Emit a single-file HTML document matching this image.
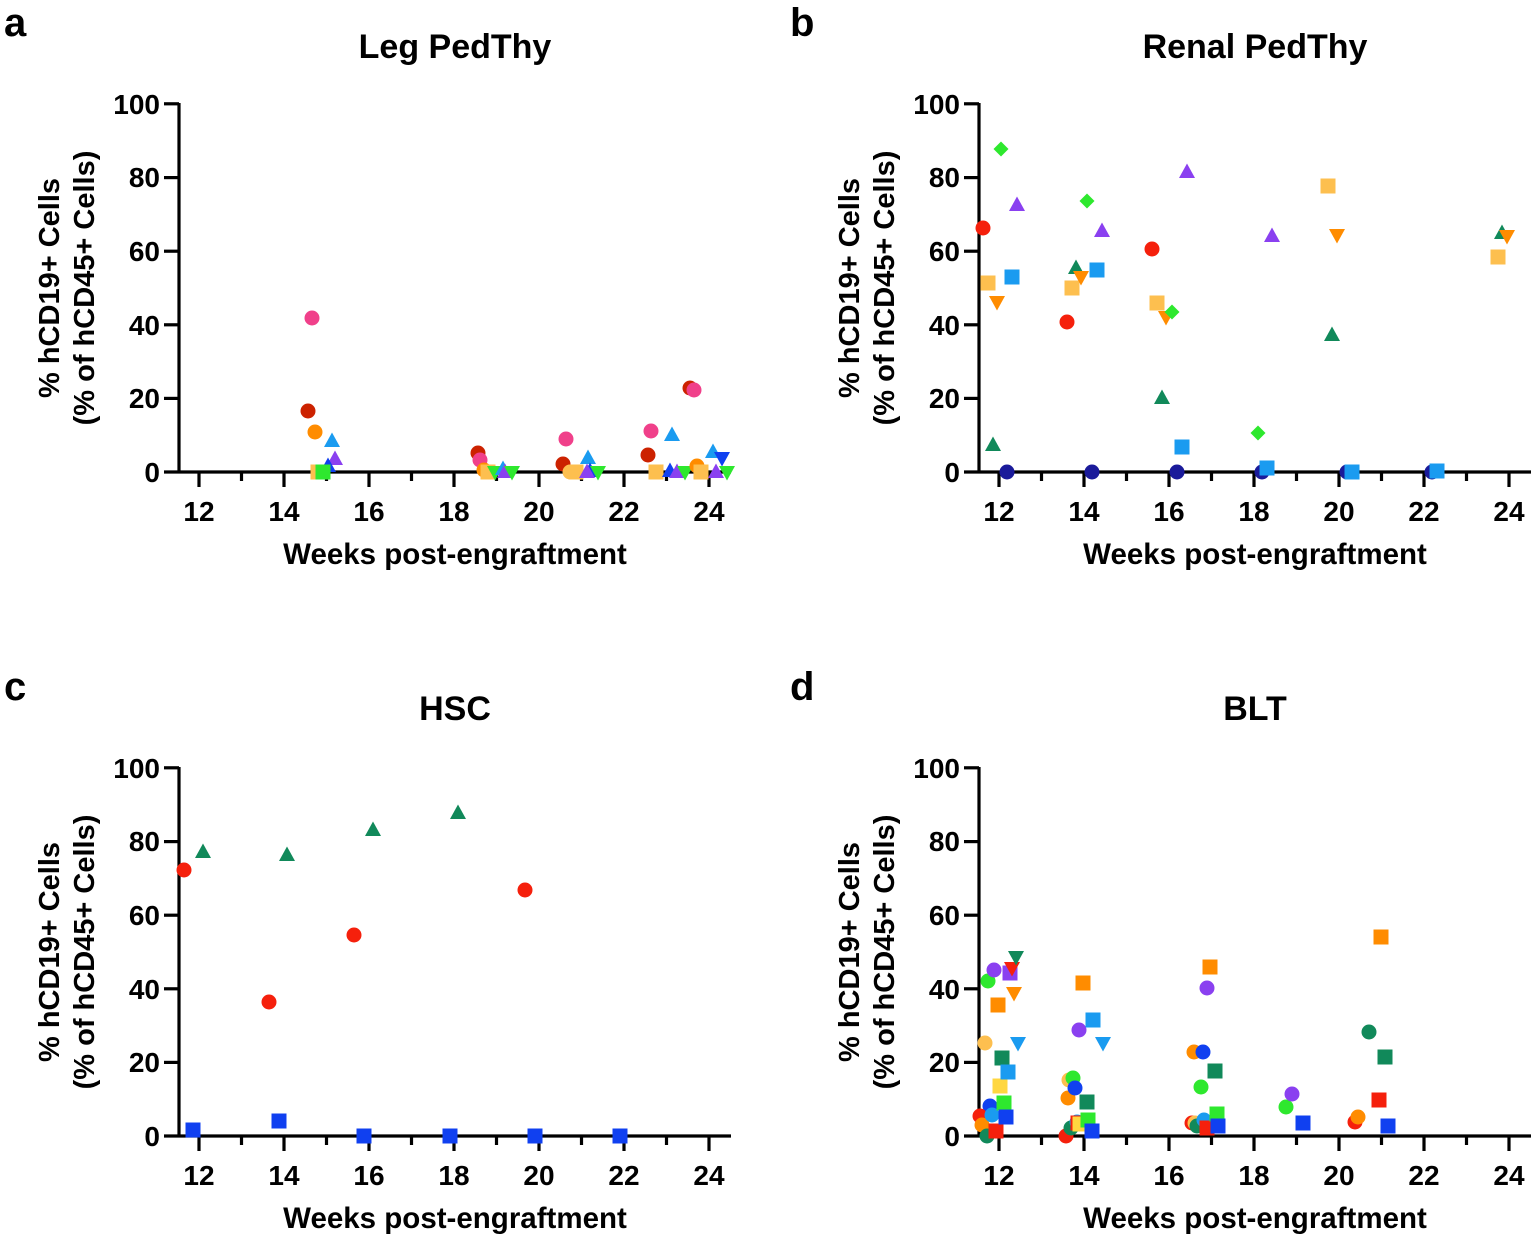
<!DOCTYPE html>
<html><head><meta charset="utf-8"><style>
html,body{margin:0;padding:0;background:#fff}
svg{display:block}
text{font-family:"Liberation Sans",Arial,sans-serif;font-weight:bold;fill:#000}
</style></head><body>
<svg width="1534" height="1238" viewBox="0 0 1534 1238" xmlns="http://www.w3.org/2000/svg">
<defs>
<circle id="c" r="7.5"/>
<rect id="s" x="-7.5" y="-7.5" width="15" height="15"/>
<polygon id="u" points="0,-8.5 8,6 -8,6"/>
<polygon id="d" points="0,8.5 8,-6 -8,-6"/>
<polygon id="m" points="0,-7.5 7.5,0 0,7.5 -7.5,0"/>
<g id="ax">
<g stroke="#000" stroke-width="3.2" fill="none">
<line x1="179" y1="103" x2="179" y2="473.5"/>
<line x1="164" y1="472" x2="731" y2="472"/>
<line x1="164" y1="103.8" x2="179" y2="103.8"/>
<line x1="164" y1="177.6" x2="179" y2="177.6"/>
<line x1="164" y1="251.2" x2="179" y2="251.2"/>
<line x1="164" y1="324.8" x2="179" y2="324.8"/>
<line x1="164" y1="398.4" x2="179" y2="398.4"/>
<line x1="199" y1="472" x2="199" y2="487"/>
<line x1="241.5" y1="472" x2="241.5" y2="481"/>
<line x1="284" y1="472" x2="284" y2="487"/>
<line x1="326.5" y1="472" x2="326.5" y2="481"/>
<line x1="369" y1="472" x2="369" y2="487"/>
<line x1="411.5" y1="472" x2="411.5" y2="481"/>
<line x1="454" y1="472" x2="454" y2="487"/>
<line x1="496.5" y1="472" x2="496.5" y2="481"/>
<line x1="539" y1="472" x2="539" y2="487"/>
<line x1="581.5" y1="472" x2="581.5" y2="481"/>
<line x1="624" y1="472" x2="624" y2="487"/>
<line x1="666.5" y1="472" x2="666.5" y2="481"/>
<line x1="709" y1="472" x2="709" y2="487"/>
</g>
<g font-size="28" text-anchor="end">
<text x="160" y="482">0</text>
<text x="160" y="408">20</text>
<text x="160" y="335">40</text>
<text x="160" y="261">60</text>
<text x="160" y="187">80</text>
<text x="160" y="114">100</text>
</g>
<g font-size="28" text-anchor="middle">
<text x="199" y="521">12</text>
<text x="284" y="521">14</text>
<text x="369" y="521">16</text>
<text x="454" y="521">18</text>
<text x="539" y="521">20</text>
<text x="624" y="521">22</text>
<text x="709" y="521">24</text>
<text x="455" y="564" font-size="29.5">Weeks post-engraftment</text>
<text transform="translate(59,288) rotate(-90)" font-size="29">% hCD19+ Cells</text>
<text transform="translate(94,288) rotate(-90)" font-size="29">(% of hCD45+ Cells)</text>
</g>
</g>
</defs>

<use href="#ax" x="0" y="0"/>
<use href="#ax" x="800" y="0"/>
<use href="#ax" x="0" y="664"/>
<use href="#ax" x="800" y="664"/>

<g font-size="40"><text x="4" y="36">a</text><text x="790" y="36">b</text><text x="4" y="700">c</text><text x="790" y="700">d</text></g>
<g font-size="34" text-anchor="middle"><text x="455" y="58">Leg PedThy</text><text x="1255" y="58">Renal PedThy</text><text x="455" y="720">HSC</text><text x="1255" y="720">BLT</text></g>

<!-- Panel a -->
<g>
<use href="#c" x="308" y="411" fill="#cc2200"/>
<use href="#c" x="315" y="432" fill="#ff8c00"/>
<use href="#c" x="312" y="318" fill="#f0408a"/>
<use href="#u" x="332" y="441" fill="#1a9bf0"/>
<use href="#u" x="335" y="459" fill="#8a40f0"/>
<use href="#u" x="328" y="466" fill="#1040f0"/>
<use href="#s" x="318" y="472" fill="#fdbf4f"/>
<use href="#s" x="323" y="472" fill="#2ee82e"/>
<use href="#c" x="478" y="453" fill="#cc2200"/>
<use href="#c" x="480" y="460" fill="#f0408a"/>
<use href="#c" x="484" y="470" fill="#ff8c00"/>
<use href="#s" x="488" y="472" fill="#fdbf4f"/>
<use href="#d" x="495" y="472" fill="#2ee82e"/>
<use href="#u" x="503" y="469" fill="#1a9bf0"/>
<use href="#u" x="505" y="472" fill="#8a40f0"/>
<use href="#d" x="512" y="472" fill="#2ee82e"/>
<use href="#c" x="566" y="439" fill="#f0408a"/>
<use href="#c" x="563" y="464" fill="#cc2200"/>
<use href="#c" x="570" y="472" fill="#fdbf4f"/>
<use href="#s" x="576" y="472" fill="#fdbf4f"/>
<use href="#u" x="588" y="458" fill="#1a9bf0"/>
<use href="#u" x="590" y="471" fill="#1040f0"/>
<use href="#u" x="587" y="472" fill="#8a40f0"/>
<use href="#d" x="598" y="472" fill="#2ee82e"/>
<use href="#c" x="651" y="431" fill="#f0408a"/>
<use href="#c" x="648" y="455" fill="#cc2200"/>
<use href="#s" x="656" y="472" fill="#fdbf4f"/>
<use href="#u" x="672" y="435" fill="#1a9bf0"/>
<use href="#u" x="670" y="471" fill="#1040f0"/>
<use href="#u" x="677" y="472" fill="#8a40f0"/>
<use href="#d" x="685" y="472" fill="#2ee82e"/>
<use href="#c" x="690" y="388" fill="#cc2200"/>
<use href="#c" x="694" y="390" fill="#f0408a"/>
<use href="#c" x="697" y="466" fill="#ff8c00"/>
<use href="#s" x="701" y="472" fill="#fdbf4f"/>
<use href="#u" x="713" y="452" fill="#1a9bf0"/>
<use href="#d" x="722" y="458" fill="#1040f0"/>
<use href="#u" x="716" y="472" fill="#8a40f0"/>
<use href="#d" x="727" y="472" fill="#2ee82e"/>
</g>

<!-- Panel b -->
<g>
<use href="#c" x="983" y="228" fill="#f5200c"/>
<use href="#s" x="988" y="283" fill="#fdbf4f"/>
<use href="#d" x="997" y="302" fill="#ff8c00"/>
<use href="#u" x="993" y="445" fill="#11895a"/>
<use href="#m" x="1001" y="149" fill="#2ee82e"/>
<use href="#c" x="1007" y="472" fill="#1a1a9a"/>
<use href="#u" x="1017" y="205" fill="#8a40f0"/>
<use href="#s" x="1012" y="277" fill="#1a9bf0"/>
<use href="#c" x="1067" y="322" fill="#f5200c"/>
<use href="#s" x="1072" y="288" fill="#fdbf4f"/>
<use href="#u" x="1076" y="268" fill="#11895a"/>
<use href="#d" x="1081" y="277" fill="#ff8c00"/>
<use href="#m" x="1087" y="201" fill="#2ee82e"/>
<use href="#c" x="1092" y="472" fill="#1a1a9a"/>
<use href="#s" x="1097" y="270" fill="#1a9bf0"/>
<use href="#u" x="1102" y="231" fill="#8a40f0"/>
<use href="#c" x="1152" y="249" fill="#f5200c"/>
<use href="#s" x="1157" y="303" fill="#fdbf4f"/>
<use href="#d" x="1166" y="317" fill="#ff8c00"/>
<use href="#m" x="1172" y="312" fill="#2ee82e"/>
<use href="#u" x="1162" y="398" fill="#11895a"/>
<use href="#u" x="1187" y="172" fill="#8a40f0"/>
<use href="#s" x="1182" y="447" fill="#1a9bf0"/>
<use href="#c" x="1177" y="472" fill="#1a1a9a"/>
<use href="#m" x="1258" y="433" fill="#2ee82e"/>
<use href="#c" x="1262" y="472" fill="#1a1a9a"/>
<use href="#s" x="1267" y="468" fill="#1a9bf0"/>
<use href="#u" x="1272" y="236" fill="#8a40f0"/>
<use href="#s" x="1328" y="186" fill="#fdbf4f"/>
<use href="#d" x="1337" y="235" fill="#ff8c00"/>
<use href="#u" x="1332" y="335" fill="#11895a"/>
<use href="#c" x="1347" y="472" fill="#1a1a9a"/>
<use href="#s" x="1352" y="472" fill="#1a9bf0"/>
<use href="#c" x="1432" y="472" fill="#1a1a9a"/>
<use href="#s" x="1437" y="471" fill="#1a9bf0"/>
<use href="#s" x="1498" y="257" fill="#fdbf4f"/>
<use href="#u" x="1502" y="233" fill="#11895a"/>
<use href="#d" x="1507" y="236" fill="#ff8c00"/>
</g>

<!-- Panel c -->
<g>
<use href="#c" x="184" y="870" fill="#f5200c"/>
<use href="#u" x="203" y="852" fill="#11895a"/>
<use href="#s" x="193" y="1130" fill="#1040f0"/>
<use href="#c" x="269" y="1002" fill="#f5200c"/>
<use href="#u" x="287" y="855" fill="#11895a"/>
<use href="#s" x="279" y="1121" fill="#1040f0"/>
<use href="#c" x="354" y="935" fill="#f5200c"/>
<use href="#u" x="373" y="830" fill="#11895a"/>
<use href="#s" x="364" y="1136" fill="#1040f0"/>
<use href="#u" x="458" y="813" fill="#11895a"/>
<use href="#s" x="450" y="1136" fill="#1040f0"/>
<use href="#c" x="525" y="890" fill="#f5200c"/>
<use href="#s" x="535" y="1136" fill="#1040f0"/>
<use href="#s" x="620" y="1136" fill="#1040f0"/>
</g>

<!-- Panel d -->
<g>
<use href="#c" x="985" y="1043" fill="#fdbf4f"/>
<use href="#c" x="988" y="981" fill="#2ee82e"/>
<use href="#c" x="994" y="970" fill="#8a40f0"/>
<use href="#c" x="990" y="1106" fill="#1040f0"/>
<use href="#c" x="980" y="1116" fill="#f5200c"/>
<use href="#c" x="982" y="1125" fill="#ff8c00"/>
<use href="#c" x="987" y="1136" fill="#11895a"/>
<use href="#c" x="992" y="1115" fill="#1a9bf0"/>
<use href="#s" x="996" y="1131" fill="#f5200c"/>
<use href="#s" x="998" y="1005" fill="#ff8c00"/>
<use href="#s" x="1000" y="1086" fill="#ffd740"/>
<use href="#s" x="1002" y="1058" fill="#11895a"/>
<use href="#s" x="1004" y="1103" fill="#2ee82e"/>
<use href="#s" x="1008" y="1072" fill="#1a9bf0"/>
<use href="#s" x="1006" y="1117" fill="#1040f0"/>
<use href="#s" x="1010" y="973" fill="#8a40f0"/>
<use href="#d" x="1012" y="968" fill="#f5200c"/>
<use href="#d" x="1014" y="993" fill="#ff8c00"/>
<use href="#d" x="1016" y="957" fill="#11895a"/>
<use href="#d" x="1018" y="1043" fill="#1a9bf0"/>
<use href="#c" x="1066" y="1136" fill="#f5200c"/>
<use href="#c" x="1068" y="1098" fill="#ff8c00"/>
<use href="#c" x="1069" y="1080" fill="#fdbf4f"/>
<use href="#c" x="1073" y="1078" fill="#2ee82e"/>
<use href="#c" x="1075" y="1088" fill="#1040f0"/>
<use href="#c" x="1079" y="1030" fill="#8a40f0"/>
<use href="#c" x="1071" y="1128" fill="#11895a"/>
<use href="#c" x="1077" y="1122" fill="#1a9bf0"/>
<use href="#s" x="1078" y="1123" fill="#f5200c"/>
<use href="#s" x="1080" y="1124" fill="#ffd740"/>
<use href="#s" x="1088" y="1120" fill="#2ee82e"/>
<use href="#s" x="1087" y="1102" fill="#11895a"/>
<use href="#s" x="1092" y="1131" fill="#1040f0"/>
<use href="#s" x="1083" y="983" fill="#ff8c00"/>
<use href="#s" x="1093" y="1020" fill="#1a9bf0"/>
<use href="#d" x="1103" y="1043" fill="#1a9bf0"/>
<use href="#c" x="1192" y="1123" fill="#f5200c"/>
<use href="#c" x="1194" y="1052" fill="#ff8c00"/>
<use href="#c" x="1195" y="1123" fill="#fdbf4f"/>
<use href="#c" x="1197" y="1126" fill="#11895a"/>
<use href="#c" x="1201" y="1087" fill="#2ee82e"/>
<use href="#c" x="1203" y="1052" fill="#1040f0"/>
<use href="#c" x="1207" y="988" fill="#8a40f0"/>
<use href="#c" x="1204" y="1120" fill="#1a9bf0"/>
<use href="#s" x="1207" y="1128" fill="#f5200c"/>
<use href="#s" x="1210" y="967" fill="#ff8c00"/>
<use href="#s" x="1215" y="1071" fill="#11895a"/>
<use href="#s" x="1217" y="1114" fill="#2ee82e"/>
<use href="#s" x="1218" y="1126" fill="#1040f0"/>
<use href="#c" x="1286" y="1107" fill="#2ee82e"/>
<use href="#c" x="1292" y="1094" fill="#8a40f0"/>
<use href="#s" x="1303" y="1123" fill="#1040f0"/>
<use href="#c" x="1355" y="1122" fill="#f5200c"/>
<use href="#c" x="1358" y="1117" fill="#ff8c00"/>
<use href="#c" x="1369" y="1032" fill="#11895a"/>
<use href="#s" x="1381" y="937" fill="#ff8c00"/>
<use href="#s" x="1379" y="1100" fill="#f5200c"/>
<use href="#s" x="1385" y="1057" fill="#11895a"/>
<use href="#s" x="1388" y="1126" fill="#1040f0"/>
</g>
</svg>
</body></html>
